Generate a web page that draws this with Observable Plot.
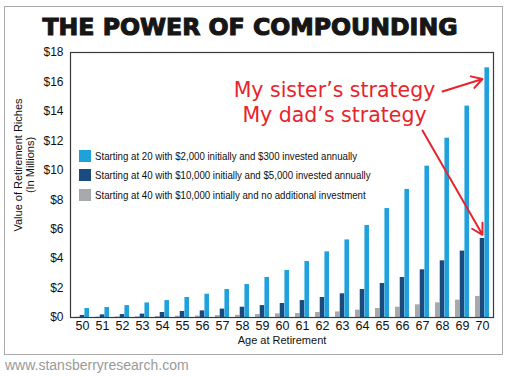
<!DOCTYPE html>
<html><head><meta charset="utf-8">
<script src="https://cdn.jsdelivr.net/npm/d3@7"></script>
<script src="https://cdn.jsdelivr.net/npm/@observablehq/plot@0.6"></script>
<style>
  html,body{margin:0;padding:0;background:#fff;}
  #card{position:relative;width:510px;height:377px;overflow:hidden;font-family:"Liberation Sans",Arial,sans-serif;}
  #box{position:absolute;left:4px;top:6px;width:499px;height:349px;border:1px solid #a9a9a9;box-sizing:border-box;}
  #title{position:absolute;left:0;width:500px;top:13px;text-align:center;font-family:"DejaVu Sans",sans-serif;font-weight:bold;font-size:23.6px;line-height:28px;color:#161616;-webkit-text-stroke:1.1px #161616;letter-spacing:0px;}
  #chart{position:absolute;left:0;top:40px;}
  #legend{position:absolute;left:79px;top:146px;font-size:11px;color:#111;}
  .li{display:flex;align-items:center;height:19.5px;}
  .sw{width:12px;height:12px;margin-right:4px;box-sizing:border-box;flex:none;}
  .lt{display:inline-block;transform:scaleX(0.88);transform-origin:left center;white-space:nowrap;}
  #foot{position:absolute;left:5px;top:357px;font-family:"Liberation Sans",Arial,sans-serif;font-size:14px;color:#9a9a9a;}
</style>
</head><body>
<div id="card">
  <div id="box"></div>
  <div id="title">THE POWER OF COMPOUNDING</div>
  <div id="chart"></div>
  <div id="legend"></div>
  <div id="foot">www.stansberryresearch.com</div>
</div>
<script>
const ages = [50,51,52,53,54,55,56,57,58,59,60,61,62,63,64,65,66,67,68,69,70];
const seriesNames = [
  "Starting at 40 with $10,000 intially and no additional investment",
  "Starting at 40 with $10,000 initially and $5,000 invested annually",
  "Starting at 20 with $2,000 initially and $300 invested annually"
];
const legendOrder = [2,1,0];
const seriesColors = ["#a7a9ac","#1b4a7e","#1fa2dc"];
const noAddValues = [0.02,0.03,0.04,0.05,0.07,0.09,0.10,0.13,0.15,0.20,0.25,0.27,0.34,0.38,0.50,0.61,0.70,0.86,1.00,1.18,1.43];
const dadValues   = [0.14,0.18,0.20,0.23,0.34,0.41,0.45,0.57,0.70,0.81,0.95,1.15,1.36,1.61,1.90,2.31,2.72,3.24,3.85,4.51,5.37];
const sisterValues= [0.61,0.68,0.81,0.99,1.15,1.36,1.58,1.90,2.24,2.72,3.19,3.80,4.46,5.27,6.25,7.40,8.70,10.28,12.18,14.36,16.96];
const yTicks = [0,2,4,6,8,10,12,14,16,18];
const annotations = [
  {text:"My sister’s strategy", age:63, value:15.45, fromAge:68, fromValue:15.35, toAge:70, toValue:16.2},
  {text:"My dad’s strategy",    age:63, value:13.75, fromAge:67, fromValue:12.7,  toAge:70, toValue:5.62}
];

const allValues = [noAddValues, dadValues, sisterValues];
const rows = [];
allValues.forEach((vals, s) => vals.forEach((v, i) => rows.push({age: ages[i], series: s, value: v})));

const W = 510, H = 316, mL = 70, mR = 17, mT = 12, mB = 39;
const bw = (W - mL - mR) / ages.length;
const groupW = bw * 0.70;
const barW = groupW / 3;
const red = "#e8232c";
const font = "'Liberation Sans',Arial,sans-serif";

const barMarks = [0,1,2].map(s => {
  const left = (bw - groupW) / 2 + s * barW;
  return Plot.barY(rows.filter(r => r.series === s), {
    x: "age", y: "value", fill: seriesColors[s],
    insetLeft: left, insetRight: bw - left - barW
  });
});

const chart = Plot.plot({
  width: W, height: H,
  marginLeft: mL, marginRight: mR, marginTop: mT, marginBottom: mB,
  style: {fontFamily: font, background: "transparent"},
  x: {type: "band", domain: ages, padding: 0, axis: null},
  y: {domain: [0, 18], axis: null},
  marks: [
    ...barMarks,
    Plot.frame({stroke: "#3a3a3a", strokeWidth: 1.2}),
    Plot.axisX({tickSize: 0, tickPadding: 4, fontSize: 12.5, fill: "#111", label: null}),
    Plot.axisY({ticks: yTicks, tickSize: 0, tickPadding: 7, fontSize: 12, fill: "#111", tickFormat: d => "$" + d, label: null}),
    Plot.text(["Age at Retirement"], {frameAnchor: "bottom", dy: 26, fontSize: 11, fill: "#111"}),
    Plot.text(["Value of Retirement Riches\n(In Millions)"], {frameAnchor: "left", textAnchor: "middle", rotate: -90, dx: -46, dy: -20, fontSize: 11, lineHeight: 1.1, fill: "#111"}),
    Plot.text(annotations, {x: "age", y: "value", text: "text", fill: red, fontSize: 20.5, fontFamily: "'DejaVu Sans',sans-serif", dx: -8}),
    Plot.arrow(annotations, {x1: "fromAge", y1: "fromValue", x2: "toAge", y2: "toValue", stroke: red, strokeWidth: 2, headLength: 9, bend: 0})
  ]
});
document.getElementById("chart").appendChild(chart);

const legend = document.getElementById("legend");
legendOrder.forEach(s => {
  const d = document.createElement("div"); d.className = "li";
  const sw = document.createElement("div"); sw.className = "sw"; sw.style.background = seriesColors[s];
  const t = document.createElement("span"); t.className = "lt"; t.textContent = seriesNames[s];
  d.appendChild(sw); d.appendChild(t); legend.appendChild(d);
});
</script>
</body></html>
